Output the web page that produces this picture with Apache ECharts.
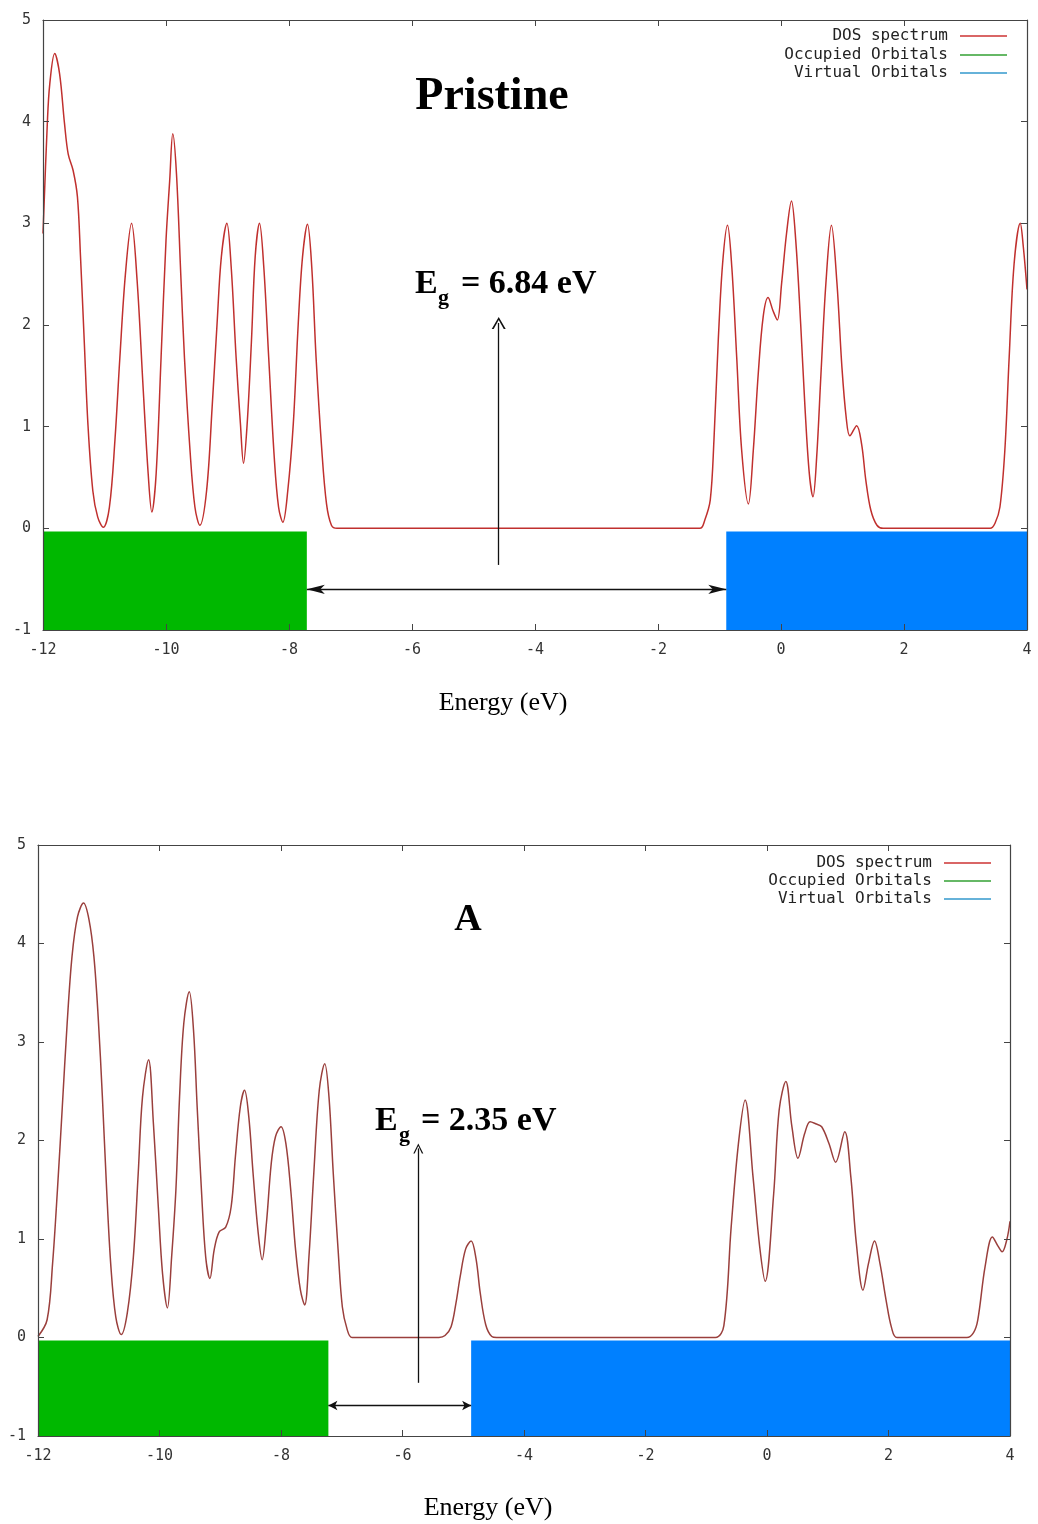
<!DOCTYPE html>
<html>
<head>
<meta charset="utf-8">
<title>DOS spectrum - Pristine / A</title>
<script src="https://cdn.jsdelivr.net/npm/echarts@6/dist/echarts.min.js"></script>
<style>
  html, body { margin: 0; padding: 0; background: #fff; }
  #main { width: 1038px; height: 1524px; }
</style>
</head>
<body>
<div id="main"></div>
<script>
// 初始化图表
var chart = echarts.init(document.getElementById('main'));

// DOS 曲线: [能量 eV, 态密度]
const dosPristine = [
  [-12.00, 2.90], [-11.93, 3.98], [-11.89, 4.37], [-11.81, 4.67], [-11.73, 4.47],
  [-11.65, 3.98], [-11.59, 3.68], [-11.51, 3.52], [-11.44, 3.26], [-11.39, 2.67],
  [-11.33, 1.85], [-11.27, 1.03], [-11.19, 0.37], [-11.11, 0.11], [-11.02, 0.01],
  [-10.92, 0.21], [-10.83, 0.87], [-10.75, 1.68], [-10.66, 2.50], [-10.56, 3.00],
  [-10.47, 2.44], [-10.37, 1.36], [-10.29, 0.54], [-10.23, 0.16], [-10.16, 0.54],
  [-10.08, 1.68], [-10.00, 2.83], [-9.94, 3.42], [-9.89, 3.88], [-9.83, 3.49],
  [-9.76, 2.50], [-9.70, 1.68], [-9.61, 0.77], [-9.53, 0.21], [-9.45, 0.03],
  [-9.34, 0.37], [-9.25, 1.19], [-9.17, 2.01], [-9.10, 2.67], [-9.01, 3.00],
  [-8.94, 2.57], [-8.86, 1.68], [-8.79, 1.03], [-8.74, 0.64], [-8.68, 1.03],
  [-8.61, 1.85], [-8.55, 2.67], [-8.48, 3.00], [-8.41, 2.57], [-8.33, 1.68],
  [-8.24, 0.70], [-8.17, 0.21], [-8.10, 0.06], [-8.02, 0.37], [-7.93, 1.03],
  [-7.85, 2.01], [-7.78, 2.67], [-7.70, 2.99], [-7.63, 2.57], [-7.56, 1.68],
  [-7.47, 0.80], [-7.39, 0.24], [-7.31, 0.03], [-7.22, 0.00], [-1.32, 0.00],
  [-1.24, 0.08], [-1.15, 0.28], [-1.09, 0.87], [-1.02, 1.85], [-0.95, 2.60],
  [-0.87, 2.98], [-0.80, 2.57], [-0.72, 1.68], [-0.64, 0.77], [-0.53, 0.24],
  [-0.45, 0.77], [-0.37, 1.52], [-0.29, 2.08], [-0.21, 2.27], [-0.13, 2.14],
  [-0.06, 2.05], [0.01, 2.41], [0.09, 2.90], [0.17, 3.22], [0.24, 2.83],
  [0.32, 2.01], [0.39, 1.19], [0.46, 0.54], [0.52, 0.31], [0.58, 0.70],
  [0.65, 1.52], [0.73, 2.41], [0.82, 2.98], [0.91, 2.41], [0.99, 1.59],
  [1.06, 1.09], [1.12, 0.91], [1.23, 1.01], [1.31, 0.83], [1.38, 0.47],
  [1.46, 0.18], [1.56, 0.03], [1.66, 0.00], [3.40, 0.00], [3.48, 0.05],
  [3.56, 0.21], [3.64, 0.77], [3.71, 1.68], [3.79, 2.60], [3.89, 3.00],
  [3.94, 2.77], [4.00, 2.35]
];

const dosA = [
  [-12.00, 0.01], [-11.85, 0.18], [-11.76, 0.75], [-11.68, 1.50], [-11.60, 2.34],
  [-11.52, 3.19], [-11.44, 3.87], [-11.35, 4.27], [-11.25, 4.41], [-11.16, 4.24],
  [-11.08, 3.87], [-11.01, 3.26], [-10.94, 2.44], [-10.87, 1.50], [-10.80, 0.72],
  [-10.72, 0.21], [-10.63, 0.03], [-10.53, 0.25], [-10.43, 0.82], [-10.35, 1.67],
  [-10.28, 2.44], [-10.18, 2.82], [-10.10, 2.17], [-10.02, 1.33], [-9.95, 0.65],
  [-9.87, 0.30], [-9.80, 0.82], [-9.73, 1.50], [-9.67, 2.44], [-9.60, 3.19],
  [-9.51, 3.51], [-9.44, 3.12], [-9.38, 2.34], [-9.31, 1.50], [-9.24, 0.82],
  [-9.17, 0.60], [-9.10, 0.89], [-9.02, 1.07], [-8.91, 1.12], [-8.82, 1.33],
  [-8.75, 1.84], [-8.67, 2.34], [-8.60, 2.51], [-8.53, 2.24], [-8.46, 1.67],
  [-8.38, 1.09], [-8.31, 0.79], [-8.24, 1.16], [-8.16, 1.77], [-8.09, 2.04],
  [-8.00, 2.14], [-7.92, 1.97], [-7.84, 1.50], [-7.76, 0.89], [-7.68, 0.48],
  [-7.61, 0.33], [-7.54, 0.82], [-7.46, 1.67], [-7.37, 2.51], [-7.28, 2.78],
  [-7.21, 2.44], [-7.14, 1.67], [-7.06, 0.89], [-6.99, 0.31], [-6.91, 0.08],
  [-6.83, 0.00], [-5.40, 0.00], [-5.30, 0.02], [-5.20, 0.11], [-5.12, 0.35],
  [-5.05, 0.62], [-4.96, 0.90], [-4.87, 0.98], [-4.79, 0.80], [-4.72, 0.45],
  [-4.63, 0.13], [-4.53, 0.01], [-4.45, 0.00], [-0.85, 0.00], [-0.71, 0.12],
  [-0.59, 1.12], [-0.47, 1.97], [-0.36, 2.41], [-0.23, 1.63], [-0.12, 0.92],
  [-0.03, 0.57], [0.11, 1.46], [0.20, 2.31], [0.31, 2.60], [0.41, 2.14],
  [0.51, 1.82], [0.62, 2.07], [0.71, 2.19], [0.80, 2.17], [0.90, 2.14],
  [1.02, 1.97], [1.13, 1.78], [1.28, 2.09], [1.38, 1.63], [1.47, 0.96],
  [1.58, 0.48], [1.67, 0.75], [1.77, 0.98], [1.86, 0.75], [1.96, 0.38],
  [2.05, 0.10], [2.14, 0.00], [3.29, 0.00], [3.40, 0.05], [3.47, 0.18],
  [3.59, 0.72], [3.71, 1.02], [3.80, 0.93], [3.87, 0.87], [3.95, 1.00],
  [4.00, 1.18]
];

// HOMO / LUMO 位置 (eV)
const homo = [-7.71, -7.22];
const lumo = [-0.89, -4.87];
// 轨道色块的上下沿
const bandTop = -0.03;
const bandBottom = -1;
// 箭头: 竖直箭头 [x, y起, y止], 水平双箭头的 y
const upArrows = [[-4.59, -0.36, 2.02], [-5.74, -0.46, 1.92]];
const gapArrowY = [-0.60, -0.69];

// 坐标轴范围
const xMin = -12, xMax = 4, xStep = 2;
const yMin = -1, yMax = 5, yStep = 1;

const legendNames = ['DOS spectrum', 'Occupied Orbitals', 'Virtual Orbitals'];
const dosColors = ['#c0302e', '#9a3f3c'];
const occColor = '#00b800';
const virColor = '#0080ff';
const legendLineColors = ['#cc3333', '#33a033', '#3399cc'];

const grids = [
  { left: 43, top: 20, width: 984, height: 610 },
  { left: 38, top: 845, width: 972, height: 591 }
];

const monoFont = 'DejaVu Sans Mono';
const serifFont = 'Liberation Serif';
const axisColor = '#444';
const chevron = 'path://M0,10 L5,0 L10,10 L8.6,10 L5,2.6 L1.4,10 Z';

var xAxes = [], yAxes = [], series = [], legends = [];

grids.forEach(function (g, i) {
  // 下方/左侧主轴
  xAxes.push({
    gridIndex: i, type: 'value', min: xMin, max: xMax, interval: xStep, z: 5,
    axisLine: { show: true, onZero: false, lineStyle: { color: axisColor, width: 1.2 } },
    axisTick: { show: true, inside: true, length: 6, lineStyle: { color: axisColor } },
    axisLabel: { margin: 13, fontFamily: monoFont, fontSize: 15, color: '#333' },
    splitLine: { show: false }
  });
  // 上方镜像刻度
  xAxes.push({
    gridIndex: i, type: 'value', position: 'top', min: xMin, max: xMax, interval: xStep, z: 5,
    axisLine: { show: true, onZero: false, lineStyle: { color: axisColor, width: 1.2 } },
    axisTick: { show: true, inside: true, length: 6, lineStyle: { color: axisColor } },
    axisLabel: { show: false }, splitLine: { show: false }
  });
  yAxes.push({
    gridIndex: i, type: 'value', min: yMin, max: yMax, interval: yStep, z: 5,
    axisLine: { show: true, onZero: false, lineStyle: { color: axisColor, width: 1.2 } },
    axisTick: { show: true, inside: true, length: 6, lineStyle: { color: axisColor } },
    axisLabel: { margin: 12, fontFamily: monoFont, fontSize: 15, color: '#333' },
    splitLine: { show: false }
  });
  yAxes.push({
    gridIndex: i, type: 'value', position: 'right', min: yMin, max: yMax, interval: yStep, z: 5,
    axisLine: { show: true, onZero: false, lineStyle: { color: axisColor, width: 1.2 } },
    axisTick: { show: true, inside: true, length: 6, lineStyle: { color: axisColor } },
    axisLabel: { show: false }, splitLine: { show: false }
  });
});

function blockSeries(name, color, gi, x0, x1) {
  return {
    name: name, type: 'custom', xAxisIndex: gi * 2, yAxisIndex: gi * 2,
    itemStyle: { color: color }, z: 1, silent: true,
    data: [[x0, x1, bandTop, bandBottom]],
    encode: { x: [0, 1], y: [2, 3] },
    renderItem: function (params, api) {
      var p1 = api.coord([api.value(0), api.value(2)]);
      var p2 = api.coord([api.value(1), api.value(3)]);
      return {
        type: 'rect',
        shape: { x: p1[0], y: p1[1], width: p2[0] - p1[0], height: p2[1] - p1[1] },
        style: { fill: color }
      };
    }
  };
}

[dosPristine, dosA].forEach(function (dos, i) {
  var half = i === 0 ? [18, 7] : [9, 7];
  var head = i === 0 ? [14, 12] : [10, 10];
  series.push({
    name: legendNames[0], type: 'line', xAxisIndex: i * 2, yAxisIndex: i * 2,
    data: dos, smooth: 0.35, showSymbol: false, z: 3,
    lineStyle: { color: dosColors[i], width: 1.5 },
    itemStyle: { color: dosColors[i] },
    markLine: {
      silent: true, animation: false,
      label: { show: false },
      lineStyle: { color: '#111', width: 1.3, type: 'solid' },
      emphasis: { disabled: true },
      data: [
        [
          { coord: [upArrows[i][0], upArrows[i][1]], symbol: 'none' },
          { coord: [upArrows[i][0], upArrows[i][2]], symbol: chevron, symbolSize: head }
        ],
        [
          { coord: [homo[i], gapArrowY[i]], symbol: 'arrow', symbolSize: [half[1], half[0]] },
          { coord: [lumo[i], gapArrowY[i]], symbol: 'arrow', symbolSize: [half[1], half[0]] }
        ]
      ]
    }
  });
  series.push(blockSeries(legendNames[1], occColor, i, xMin, homo[i]));
  series.push(blockSeries(legendNames[2], virColor, i, lumo[i], xMax));
});

// 图例: 每行一个, 右对齐
const legendRight = [31, 47];
const legendRowY = [[34, 53, 71], [861, 879, 897]];
[0, 1].forEach(function (gi) {
  legendNames.forEach(function (name, k) {
    legends.push({
      data: [{ name: name, itemStyle: { color: legendLineColors[k] } }],
      right: legendRight[gi], top: legendRowY[gi][k] - 6,
      orient: 'vertical', align: 'right', icon: 'rect',
      itemWidth: 47, itemHeight: 1.5, padding: 0, selectedMode: false,
      textStyle: { fontFamily: monoFont, fontSize: 16, color: '#222', padding: [0, 7, 0, 0] }
    });
  });
});

function txt(x, y, text, size, bold, align) {
  return {
    type: 'text', x: x, y: y, silent: true,
    style: {
      text: text, fill: '#000', font: (bold ? 'bold ' : '') + size + 'px "' + serifFont + '"',
      align: align || 'left', verticalAlign: 'middle'
    }
  };
}

const option = {
  animation: false,
  backgroundColor: '#fff',
  grid: grids.map(function (g) { return Object.assign({ containLabel: false }, g); }),
  xAxis: xAxes,
  yAxis: yAxes,
  legend: legends,
  series: series,
  graphic: [
    txt(492, 97, 'Pristine', 46, true, 'center'),
    txt(415, 284, 'E', 34, true),
    txt(438, 298, 'g', 22, true),
    txt(461, 284, '= 6.84 eV', 34, true),
    txt(468, 920, 'A', 38, true, 'center'),
    txt(375, 1121, 'E', 34, true),
    txt(399, 1135, 'g', 22, true),
    txt(421, 1121, '= 2.35 eV', 34, true),
    txt(503, 703, 'Energy (eV)', 26, false, 'center'),
    txt(488, 1508, 'Energy (eV)', 26, false, 'center')
  ]
};

// 渲染图表
chart.setOption(option);
</script>
</body>
</html>
